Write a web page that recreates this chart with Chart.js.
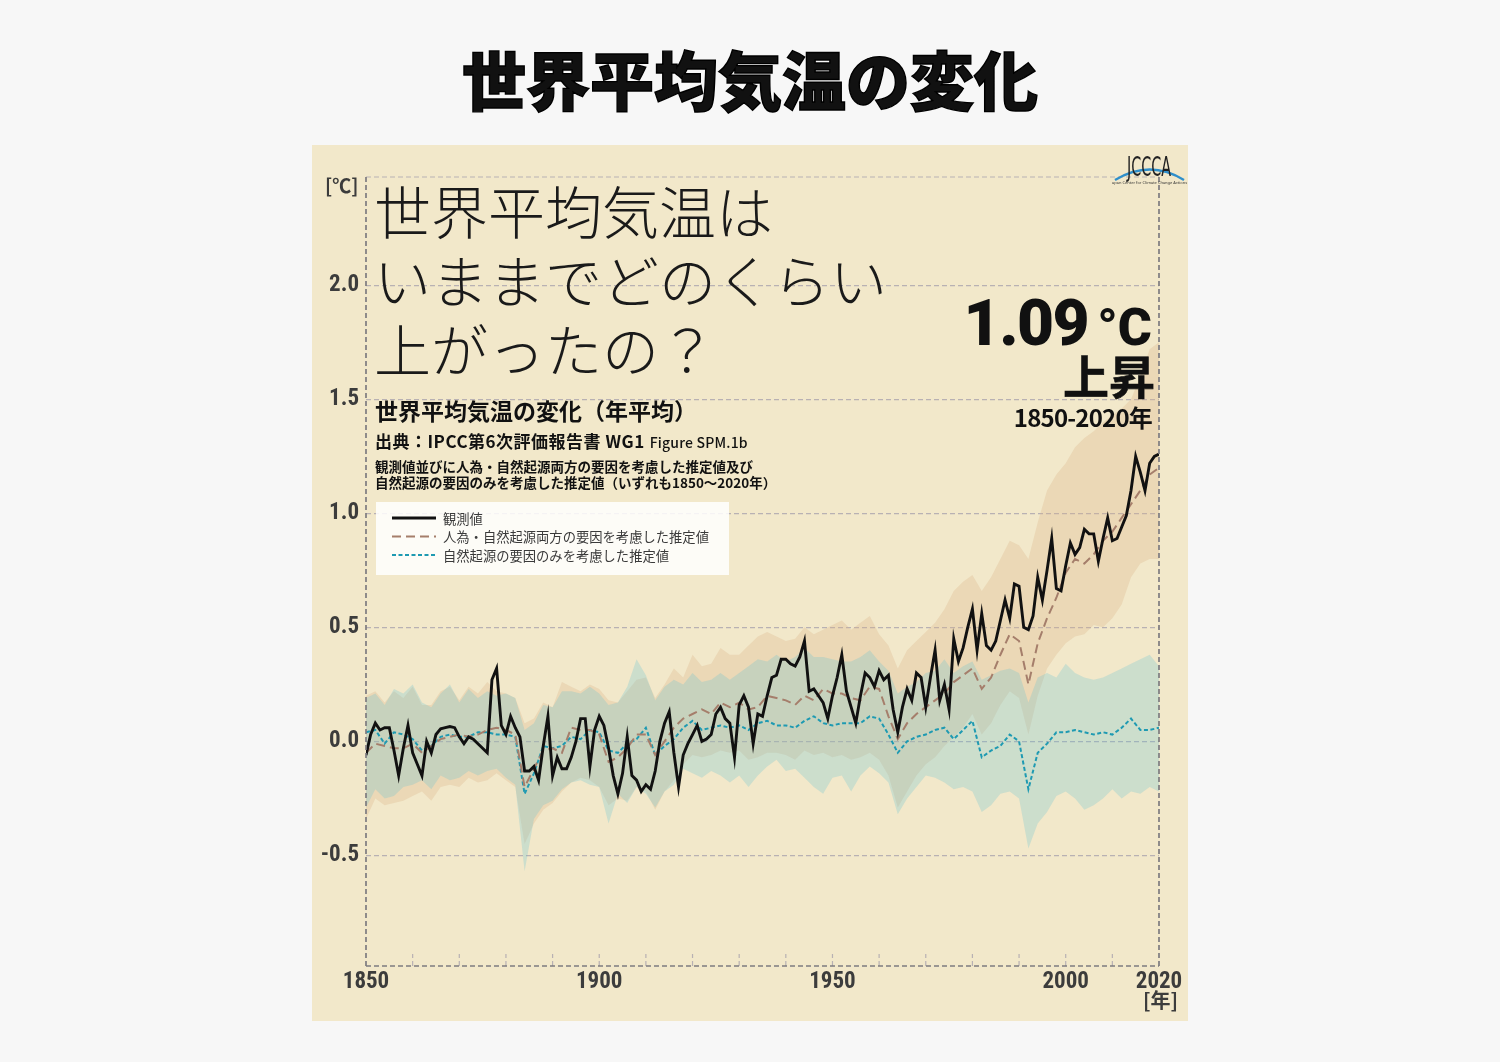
<!DOCTYPE html>
<html lang="ja">
<head>
<meta charset="utf-8">
<title>世界平均気温の変化</title>
<script src="https://cdn.jsdelivr.net/npm/chart.js@4.4.1/dist/chart.umd.min.js"></script>
<style>
  html, body { margin: 0; padding: 0; }
  body {
    width: 1500px; height: 1062px; position: relative; overflow: hidden;
    background: #f7f7f7;
    font-family: "Noto Sans CJK JP", "Noto Sans", sans-serif;
    color: #111;
  }
  .title {
    position: absolute; left: 0; top: 45px; width: 1500px;
    text-align: center; font-size: 64px; line-height: 64px; font-weight: 900;
    -webkit-text-stroke: 1.4px #000;
  }
  #panel { position: absolute; left: 312px; top: 145px; width: 876px; height: 876px; background: #f2e8ca; }
  #chartBox { position: absolute; left: 0; top: 0; width: 876px; height: 876px; }
  .abs { position: absolute; white-space: nowrap; }
  .unit-c { left: 13px; top: 30px; font-size: 19px; line-height: 19px; font-weight: 700; color: #3c3c3c; }
  .question { left: 62px; top: 30px; font-size: 57px; line-height: 69px; font-weight: 300; color: #1a1a1a; }
  .sub { left: 63px; top: 254px; font-size: 23px; line-height: 23px; font-weight: 700; }
  .src { left: 63px; top: 287px; font-size: 17px; line-height: 17px; font-weight: 700; letter-spacing: 0.5px; }
  .src .fig { font-size: 14px; font-weight: 500; letter-spacing: 0.2px; margin-left: 5px; }
  .note { left: 63px; top: 313px; font-size: 13.5px; line-height: 16px; font-weight: 700; }
  .big { right: 36px; top: 147px; font-family: Roboto, "Noto Sans", sans-serif; font-size: 64px; line-height: 64px; font-weight: 900; letter-spacing: -1.5px; }
  .big .deg { font-size: 52px; margin-left: 9px; letter-spacing: 0; }
  .rise { right: 33px; top: 206px; font-size: 46px; line-height: 46px; font-weight: 700; -webkit-text-stroke: 0.6px #111; }
  .period { right: 36px; top: 260px; font-size: 24px; line-height: 24px; font-weight: 700; letter-spacing: -0.8px; }
  .unit-y { left: 831px; top: 845px; font-size: 20px; line-height: 20px; font-weight: 700; color: #3c3c3c; }
  .logo { left: 800px; top: 4px; }
</style>
</head>
<body>
<div class="title">世界平均気温の変化</div>
<div id="panel">
  <div id="chartBox"><canvas id="tempChart"></canvas></div>
  <div class="abs unit-c">[℃]</div>
  <div class="abs question">世界平均気温は<br>いままでどのくらい<br>上がったの？</div>
  <div class="abs sub">世界平均気温の変化（年平均）</div>
  <div class="abs src">出典：IPCC第6次評価報告書 WG1<span class="fig">Figure SPM.1b</span></div>
  <div class="abs note">観測値並びに人為・自然起源両方の要因を考慮した推定値及び<br>自然起源の要因のみを考慮した推定値（いずれも1850～2020年）</div>
  <div class="abs big">1.09<span class="deg">°C</span></div>
  <div class="abs rise">上昇</div>
  <div class="abs period">1850-2020年</div>
  <div class="abs unit-y">[年]</div>
  <svg class="abs logo" width="76" height="40" viewBox="0 0 76 40">
    <path d="M3,31 Q38,10 72,31" fill="none" stroke="#2f8fcb" stroke-width="2.4"/>
    <text x="37" y="27" text-anchor="middle" font-family="'Liberation Sans Narrow', 'DejaVu Sans Condensed', sans-serif"
          font-size="27" textLength="44" lengthAdjust="spacingAndGlyphs" fill="#222">JCCCA</text>
    <text x="37" y="35" text-anchor="middle" font-family="'Noto Sans', sans-serif" font-size="4" fill="#333">Japan Center for Climate Change Actions</text>
  </svg>
</div>

<script>
// axis ticks
const xTickYears = [1850, 1900, 1950, 2000, 2020];
const yTickValues = [-0.5, 0.0, 0.5, 1.0, 1.5, 2.0];

const legendLabels = [
    "観測値",
    "人為・自然起源両方の要因を考慮した推定値",
    "自然起源の要因のみを考慮した推定値"
];

// observed annual anomaly, 1850-2020 (°C, vs 1850-1900)
const obsYears = Array.from({length: 171}, (_, i) => 1850 + i);
const obsTemp = [
    -0.06, 0.03, 0.08, 0.05, 0.06, 0.06, -0.04, -0.15, -0.03, 0.07,
    -0.05, -0.10, -0.15, 0.00, -0.05, 0.03, 0.055, 0.06, 0.065, 0.06,
    0.02, -0.01, 0.02, 0.01, -0.01, -0.03, -0.05, 0.27, 0.32, 0.07,
    0.03, 0.11, 0.06, 0.02, -0.13, -0.13, -0.11, -0.17, -0.02, 0.11,
    -0.15, -0.07, -0.12, -0.12, -0.07, 0.00, 0.10, 0.10, -0.11, 0.05,
    0.11, 0.07, -0.03, -0.15, -0.23, -0.14, 0.02, -0.15, -0.17, -0.22,
    -0.19, -0.21, -0.13, 0.00, 0.08, 0.13, -0.05, -0.20, -0.06, -0.01,
    0.03, 0.07, 0.00, 0.01, 0.03, 0.12, 0.15, 0.10, 0.08, -0.07,
    0.16, 0.20, 0.15, -0.01, 0.12, 0.11, 0.20, 0.28, 0.29, 0.36,
    0.36, 0.34, 0.33, 0.37, 0.44, 0.22, 0.23, 0.20, 0.17, 0.10,
    0.20, 0.28, 0.38, 0.22, 0.15, 0.08, 0.20, 0.30, 0.28, 0.24,
    0.31, 0.27, 0.29, 0.14, 0.04, 0.15, 0.23, 0.18, 0.30, 0.28,
    0.15, 0.28, 0.40, 0.18, 0.25, 0.14, 0.45, 0.35, 0.41, 0.50,
    0.58, 0.40, 0.56, 0.42, 0.40, 0.44, 0.53, 0.62, 0.54, 0.69,
    0.68, 0.50, 0.49, 0.55, 0.72, 0.62, 0.75, 0.89, 0.67, 0.66,
    0.77, 0.87, 0.82, 0.85, 0.93, 0.91, 0.91, 0.79, 0.89, 0.98,
    0.88, 0.89, 0.94, 0.99, 1.10, 1.25, 1.18, 1.10, 1.22, 1.25,
    1.26
];

// model estimates, every second year 1850-2020
const modelYears = Array.from({length: 86}, (_, i) => 1850 + 2 * i);
const humanNaturalMean = [
    -0.05, -0.01, -0.02, -0.03, -0.03, -0.01, -0.05, -0.02, 0.01, 0.02,
    0.03, 0.02, 0.03, 0.05, 0.06, 0.05, 0.03, -0.20, -0.12, -0.04,
    -0.03, -0.05, 0.06, 0.05, 0.05, 0.03, -0.09, -0.07, -0.03, 0.03,
    0.03, -0.06, 0.00, 0.06, 0.10, 0.12, 0.14, 0.12, 0.17, 0.15,
    0.17, 0.14, 0.15, 0.20, 0.19, 0.18, 0.16, 0.20, 0.18, 0.23,
    0.21, 0.21, 0.19, 0.18, 0.24, 0.23, 0.11, 0.01, 0.08, 0.12,
    0.15, 0.18, 0.21, 0.26, 0.29, 0.32, 0.23, 0.28, 0.38, 0.47,
    0.44, 0.25, 0.43, 0.54, 0.63, 0.74, 0.80, 0.78, 0.82, 0.88,
    0.92, 0.98, 1.04, 1.10, 1.17, 1.20
];
const humanNaturalLow = [
    -0.34, -0.25, -0.28, -0.27, -0.26, -0.24, -0.22, -0.26, -0.20, -0.19,
    -0.20, -0.16, -0.18, -0.17, -0.14, -0.17, -0.20, -0.45, -0.36, -0.30,
    -0.27, -0.22, -0.18, -0.16, -0.17, -0.20, -0.28, -0.25, -0.26, -0.20,
    -0.22, -0.30, -0.22, -0.17, -0.10, -0.06, -0.07, -0.06, -0.04, -0.05,
    -0.04, -0.08, -0.07, -0.05, -0.05, -0.06, -0.08, -0.04, -0.06, -0.05,
    -0.07, -0.06, -0.08, -0.07, -0.05, -0.08, -0.15, -0.29, -0.22, -0.15,
    -0.10, -0.07, -0.02, 0.02, 0.06, 0.12, 0.03, 0.08, 0.16, 0.22,
    0.19, 0.03, 0.20, 0.32, 0.38, 0.43, 0.46, 0.47, 0.51, 0.50,
    0.54, 0.60, 0.72, 0.78, 0.80, 0.80
];
const humanNaturalHigh = [
    0.20, 0.22, 0.17, 0.22, 0.19, 0.24, 0.16, 0.16, 0.22, 0.24,
    0.18, 0.24, 0.21, 0.26, 0.22, 0.21, 0.19, 0.08, 0.10, 0.17,
    0.15, 0.26, 0.24, 0.22, 0.25, 0.23, 0.18, 0.17, 0.22, 0.27,
    0.28, 0.19, 0.25, 0.32, 0.28, 0.38, 0.33, 0.34, 0.41, 0.38,
    0.38, 0.42, 0.46, 0.48, 0.46, 0.44, 0.45, 0.50, 0.47, 0.49,
    0.51, 0.53, 0.49, 0.52, 0.55, 0.47, 0.42, 0.32, 0.40, 0.44,
    0.48, 0.52, 0.58, 0.66, 0.70, 0.73, 0.66, 0.72, 0.80, 0.88,
    0.86, 0.80, 0.96, 1.10, 1.17, 1.22, 1.29, 1.33, 1.36, 1.40,
    1.43, 1.46, 1.50, 1.60, 1.72, 1.75
];
const naturalMean = [
    0.04, 0.05, -0.01, 0.04, 0.03, 0.01, -0.04, -0.02, 0.02, 0.03,
    0.02, 0.02, 0.04, 0.04, 0.03, 0.03, 0.02, -0.23, -0.14, -0.02,
    -0.03, -0.02, 0.02, 0.01, 0.05, 0.04, -0.04, -0.05, -0.01, 0.01,
    0.06, -0.06, -0.02, 0.01, 0.06, 0.09, 0.05, 0.06, 0.07, 0.06,
    0.07, 0.05, 0.08, 0.09, 0.07, 0.07, 0.06, 0.09, 0.11, 0.08,
    0.07, 0.08, 0.08, 0.08, 0.11, 0.10, 0.03, -0.05, 0.00, 0.02,
    0.03, 0.05, 0.06, 0.01, 0.05, 0.09, -0.07, -0.04, -0.02, 0.03,
    0.00, -0.21, -0.05, -0.01, 0.04, 0.04, 0.05, 0.04, 0.03, 0.04,
    0.03, 0.06, 0.10, 0.05, 0.05, 0.06
];
const naturalLow = [
    -0.29, -0.21, -0.25, -0.24, -0.20, -0.19, -0.17, -0.21, -0.15, -0.17,
    -0.16, -0.13, -0.15, -0.13, -0.12, -0.16, -0.19, -0.57, -0.34, -0.28,
    -0.26, -0.21, -0.18, -0.17, -0.19, -0.20, -0.36, -0.23, -0.27, -0.20,
    -0.23, -0.29, -0.22, -0.19, -0.12, -0.14, -0.16, -0.13, -0.15, -0.18,
    -0.15, -0.20, -0.15, -0.11, -0.08, -0.13, -0.12, -0.16, -0.20, -0.23,
    -0.16, -0.15, -0.22, -0.15, -0.11, -0.14, -0.18, -0.32, -0.25, -0.20,
    -0.15, -0.16, -0.18, -0.21, -0.20, -0.22, -0.31, -0.28, -0.23, -0.22,
    -0.25, -0.47, -0.36, -0.31, -0.24, -0.22, -0.25, -0.30, -0.28, -0.25,
    -0.21, -0.25, -0.22, -0.23, -0.20, -0.22
];
const naturalHigh = [
    0.19, 0.21, 0.16, 0.23, 0.21, 0.25, 0.17, 0.15, 0.21, 0.25,
    0.17, 0.23, 0.19, 0.22, 0.20, 0.21, 0.19, 0.05, 0.08, 0.16,
    0.15, 0.22, 0.22, 0.21, 0.24, 0.21, 0.16, 0.17, 0.24, 0.36,
    0.29, 0.18, 0.24, 0.27, 0.25, 0.30, 0.26, 0.27, 0.30, 0.27,
    0.30, 0.33, 0.36, 0.35, 0.38, 0.35, 0.37, 0.41, 0.37, 0.37,
    0.36, 0.35, 0.35, 0.37, 0.40, 0.35, 0.31, 0.21, 0.24, 0.26,
    0.30, 0.31, 0.36, 0.30, 0.33, 0.35, 0.27, 0.29, 0.31, 0.32,
    0.30, 0.17, 0.28, 0.30, 0.28, 0.34, 0.30, 0.28, 0.27, 0.28,
    0.30, 0.32, 0.34, 0.36, 0.38, 0.33
];

const toPoints = (xs, ys) => xs.map((x, i) => ({x: x, y: ys[i]}));

const axisFont = {
    family: "'Liberation Sans Narrow', 'Roboto Condensed', 'Noto Sans', sans-serif",
    size: 23,
    weight: 'bold'
};

// dashed frame round the plot + small decade ticks on the bottom
const framePlugin = {
    id: 'frame',
    afterDatasetsDraw(chart) {
        const {ctx, chartArea: a, scales} = chart;
        const seg = (x1, y1, x2, y2) => { ctx.beginPath(); ctx.moveTo(x1, y1); ctx.lineTo(x2, y2); ctx.stroke(); };
        ctx.save();
        ctx.setLineDash([5, 3]);
        ctx.lineWidth = 1.2;
        ctx.strokeStyle = '#b8b1b3';
        seg(a.left, a.top, a.right, a.top);
        for (let yr = 1860; yr < 2020; yr += 10) {
            const px = scales.x.getPixelForValue(yr);
            seg(px, a.bottom, px, a.bottom - 12);
        }
        ctx.strokeStyle = '#7e7b80';
        ctx.lineWidth = 1.7;
        seg(a.left, a.top, a.left, a.bottom);
        seg(a.right, a.top, a.right, a.bottom);
        seg(a.left, a.bottom, a.right, a.bottom);
        ctx.restore();
    }
};

// white legend box inside the plot
const boxLegend = {
    id: 'boxLegend',
    afterDatasetsDraw(chart) {
        const {ctx, chartArea: a} = chart;
        const x0 = a.left + 10, y0 = a.top + 325;
        ctx.save();
        ctx.fillStyle = 'rgba(255,255,255,0.85)';
        ctx.fillRect(x0, y0, 353, 73);
        legendLabels.forEach((label, i) => {
            const ds = chart.data.datasets[i];
            const y = y0 + 16 + i * 18.5;
            ctx.beginPath();
            ctx.setLineDash(ds.borderDash || []);
            ctx.strokeStyle = ds.borderColor;
            ctx.lineWidth = ds.borderWidth;
            ctx.moveTo(x0 + 16, y);
            ctx.lineTo(x0 + 60, y);
            ctx.stroke();
            ctx.setLineDash([]);
            ctx.fillStyle = '#3a3a3a';
            ctx.font = "13.3px 'Noto Sans CJK JP', sans-serif";
            ctx.textBaseline = 'middle';
            ctx.fillText(label, x0 + 67, y + 0.5);
        });
        ctx.restore();
    }
};

const datasets = [
    {
        label: legendLabels[0],
        data: toPoints(obsYears, obsTemp),
        borderColor: '#111111',
        borderWidth: 2.9,
        fill: false,
        order: 0
    },
    {
        label: legendLabels[1],
        data: toPoints(modelYears, humanNaturalMean),
        borderColor: '#a57e6b',
        borderWidth: 2,
        borderDash: [9, 5],
        fill: false,
        order: 1
    },
    {
        label: legendLabels[2],
        data: toPoints(modelYears, naturalMean),
        borderColor: '#1e9ab2',
        borderWidth: 2,
        borderDash: [4, 2.5],
        fill: false,
        order: 2
    },
    {   // human + natural range, top edge filled down to next dataset
        label: 'hn-high',
        data: toPoints(modelYears, humanNaturalHigh),
        borderColor: 'transparent',
        backgroundColor: 'rgba(220,178,135,0.30)',
        fill: '+1',
        order: 5
    },
    {
        label: 'hn-low',
        data: toPoints(modelYears, humanNaturalLow),
        borderColor: 'transparent',
        fill: false,
        order: 6
    },
    {   // natural-only range
        label: 'nat-high',
        data: toPoints(modelYears, naturalHigh),
        borderColor: 'transparent',
        backgroundColor: 'rgba(90,192,212,0.25)',
        fill: '+1',
        order: 3
    },
    {
        label: 'nat-low',
        data: toPoints(modelYears, naturalLow),
        borderColor: 'transparent',
        fill: false,
        order: 4
    }
];

const config = {
    type: 'line',
    data: { datasets: datasets },
    options: {
        responsive: true,
        maintainAspectRatio: false,   // panel size drives the canvas
        animation: false,
        layout: { padding: { left: 0, top: 32, right: 29, bottom: 0 } },
        elements: { point: { radius: 0 }, line: { tension: 0 } },
        plugins: {
            legend: { display: false },
            tooltip: { enabled: false }
        },
        scales: {
            x: {
                type: 'linear',
                min: 1850,
                max: 2020,
                afterBuildTicks: (s) => { s.ticks = xTickYears.map(v => ({value: v})); },
                afterFit: (s) => { s.height = 55; },
                grid: { display: false },
                border: { display: false },
                ticks: {
                    padding: -6,
                    maxRotation: 0,
                    autoSkip: false,
                    color: '#3c3c3c',
                    font: { ...axisFont, size: 23 },
                    callback: (v) => String(v)
                }
            },
            y: {
                min: -0.985,
                max: 2.475,
                afterBuildTicks: (s) => { s.ticks = yTickValues.map(v => ({value: v})); },
                afterFit: (s) => { s.width = 54; },
                grid: { color: '#b8b1b3', lineWidth: 1.2, drawTicks: false },
                border: { display: false, dash: [5, 3] },
                ticks: {
                    padding: 7,
                    color: '#3c3c3c',
                    font: axisFont,
                    callback: (v) => Number(v).toFixed(1)
                }
            }
        }
    },
    plugins: [framePlugin, boxLegend]
};

const tempChart = new Chart(document.getElementById('tempChart').getContext('2d'), config);
</script>
</body>
</html>
